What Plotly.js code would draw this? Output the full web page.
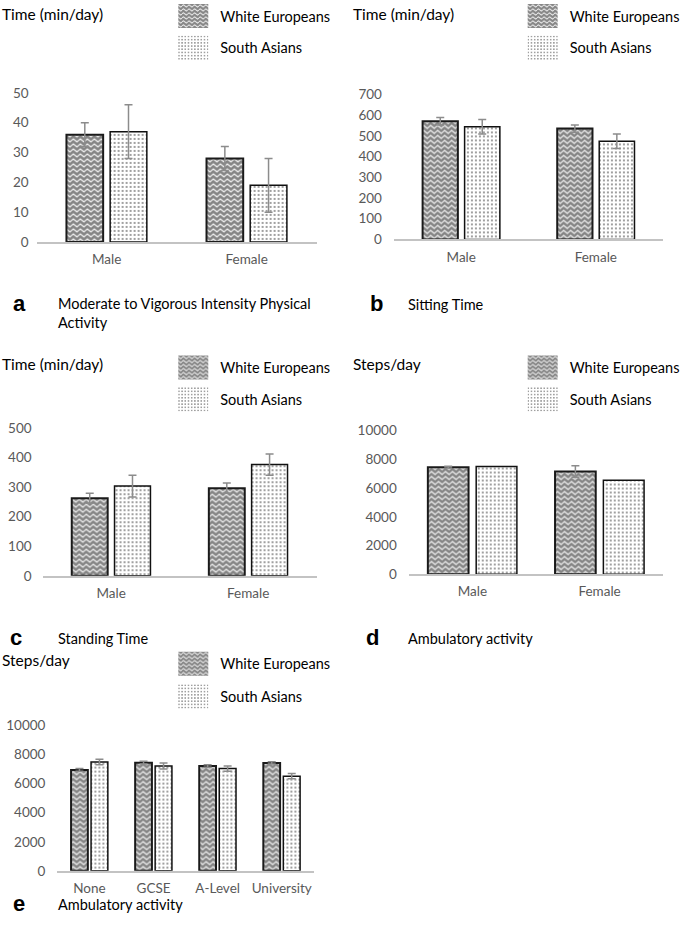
<!DOCTYPE html>
<html>
<head>
<meta charset="utf-8">
<script src="https://cdn.plot.ly/plotly-3.0.1.min.js"></script>
<style>
  html, body { margin: 0; padding: 0; background: #fff; }
  #chart { width: 685px; height: 925px; }
</style>
</head>
<body>
<div id="chart"></div>
<script>
// ---------- data ----------
const sexCategories = ['Male', 'Female'];
const eduCategories = ['None', 'GCSE', 'A-Level', 'University'];
const seriesNames = ['White Europeans', 'South Asians'];

// a: Moderate to Vigorous Intensity Physical Activity (min/day)
const mvpaWE = [36, 28];
const mvpaWEerr = [4, 4];
const mvpaSA = [37, 19];
const mvpaSAerr = [9, 9];

// b: Sitting time (min/day)
const sitWE = [571, 535];
const sitWEerr = [18, 17];
const sitSA = [544, 474];
const sitSAerr = [35, 35];

// c: Standing time (min/day)
const standWE = [263, 297];
const standWEerr = [17, 17];
const standSA = [304, 377];
const standSAerr = [37, 36];

// d: Ambulatory activity by sex (steps/day)
const stepsWE = [7450, 7150];
const stepsWEerr = [60, 400];
const stepsSA = [7500, 6550];
const stepsSAerr = [0, 0];

// e: Ambulatory activity by education (steps/day)
const eduWE = [6950, 7450, 7220, 7430];
const eduWEerr = [100, 100, 80, 80];
const eduSA = [7490, 7220, 7040, 6520];
const eduSAerr = [190, 200, 180, 180];

// ---------- styling helpers ----------
const W = 685, H = 925;
const px = v => v / W;
const py = v => 1 - v / H;
const FONT = 'Lato, "Open Sans", sans-serif';
const TXT = 14.5;
const errStyle = { color: '#8c8c8c', thickness: 1.5, width: 4 };

const weMarker = {
  color: '#8a8a8a',
  line: { color: '#1a1a1a', width: 2 },
  pattern: { shape: '-', bgcolor: '#8a8a8a', fgcolor: '#f2f2f2', size: 5, solidity: 0.3, fillmode: 'replace' }
};
const saMarker = {
  color: '#ffffff',
  line: { color: '#111111', width: 1.5 },
  pattern: { shape: '.', bgcolor: '#ffffff', fgcolor: '#262626', size: 4, solidity: 0.13, fillmode: 'replace' }
};

function pair(cats, we, weErr, sa, saErr, xa, ya, w, legA, legB) {
  const off = w.off, wid = w.wid;
  return [
    {
      type: 'bar', name: seriesNames[0], x: cats, y: we, xaxis: xa, yaxis: ya,
      width: wid, offset: -off - wid,
      marker: weMarker,
      error_y: Object.assign({ type: 'data', array: weErr, visible: weErr.some(v => v > 0) }, errStyle),
      legend: legA, showlegend: true, legendgroup: legA
    },
    {
      type: 'bar', name: seriesNames[1], x: cats, y: sa, xaxis: xa, yaxis: ya,
      width: wid, offset: off,
      marker: saMarker,
      error_y: Object.assign({ type: 'data', array: saErr, visible: saErr.some(v => v > 0) }, errStyle),
      legend: legB, showlegend: true, legendgroup: legB
    }
  ];
}

const std = { off: 0.025, wid: 0.262 };
const wide = { off: 0.03, wid: 0.32 };

const data = [].concat(
  pair(sexCategories, mvpaWE, mvpaWEerr, mvpaSA, mvpaSAerr, 'x', 'y', std, 'legend', 'legend2'),
  pair(sexCategories, sitWE, sitWEerr, sitSA, sitSAerr, 'x2', 'y2', std, 'legend3', 'legend4'),
  pair(sexCategories, standWE, standWEerr, standSA, standSAerr, 'x3', 'y3', std, 'legend5', 'legend6'),
  pair(sexCategories, stepsWE, stepsWEerr, stepsSA, stepsSAerr, 'x4', 'y4', wide, 'legend7', 'legend8'),
  pair(eduCategories, eduWE, eduWEerr, eduSA, eduSAerr, 'x5', 'y5', std, 'legend9', 'legend10')
);

function xAxis(x0, x1, yref) {
  return {
    domain: [px(x0), px(x1)], anchor: yref, type: 'category',
    showline: true, linecolor: '#c3c3c3', linewidth: 2,
    ticks: '', showgrid: false, zeroline: false, fixedrange: true,
    tickfont: { family: FONT, size: 13.5, color: '#595959' },
    ticklabelstandoff: 4
  };
}
function yAxis(yTop, yBottom, range, dtick, xref, standoff) {
  return {
    domain: [py(yBottom), py(yTop)], anchor: xref, range: range, dtick: dtick,
    tickformat: 'd',
    showline: false, showgrid: false, zeroline: false, ticks: '', fixedrange: true,
    tickfont: { family: FONT, size: 13.5, color: '#595959' },
    ticklabelstandoff: standoff
  };
}

function legendAt(x, yc) {
  return {
    x: px(x), y: py(yc), xanchor: 'left', yanchor: 'middle',
    bgcolor: 'rgba(0,0,0,0)', borderwidth: 0, itemwidth: 44,
    font: { family: FONT, size: TXT, color: '#000' },
    itemclick: false, itemdoubleclick: false
  };
}

function ann(text, x, y, opts) {
  return Object.assign({
    text: text, xref: 'paper', yref: 'paper', x: px(x), y: py(y),
    xanchor: 'left', yanchor: 'middle', showarrow: false, align: 'left',
    font: { family: FONT, size: TXT, color: '#000' }
  }, opts || {});
}
const unitFont = { family: FONT, size: 15.5, color: '#000' };
const letterFont = { family: '"Liberation Sans", Arial, sans-serif', size: 22, color: '#000', weight: 'bold' };

const layout = {
  width: W, height: H,
  margin: { l: 0, r: 0, t: 0, b: 0 },
  paper_bgcolor: '#ffffff', plot_bgcolor: 'rgba(0,0,0,0)',
  barmode: 'group',
  showlegend: true,
  xaxis: xAxis(37, 320, 'y'),
  yaxis: yAxis(87.5, 237.5, [0, 50], 10, 'x', 7),
  xaxis2: xAxis(398, 670, 'y2'),
  yaxis2: yAxis(89, 235, [0, 700], 100, 'x2', 11),
  xaxis3: xAxis(43, 320, 'y3'),
  yaxis3: yAxis(425, 573.5, [0, 500], 100, 'x3', 10),
  xaxis4: xAxis(413, 670, 'y4'),
  yaxis4: yAxis(427.3, 572, [0, 10000], 2000, 'x4', 11),
  xaxis5: xAxis(58, 317, 'y5'),
  yaxis5: yAxis(724.3, 870.5, [0, 10000], 2000, 'x5', 11),
  legend: legendAt(168, 10),
  legend2: legendAt(168, 42),
  legend3: legendAt(521, 10),
  legend4: legendAt(521, 42),
  legend5: legendAt(168, 364),
  legend6: legendAt(168, 396),
  legend7: legendAt(521, 364),
  legend8: legendAt(521, 396),
  legend9: legendAt(168, 662),
  legend10: legendAt(168, 695),
  annotations: [
    ann('Time (min/day)', 0, 8, { font: unitFont }),
    ann('Time (min/day)', 355, 8, { font: unitFont }),
    ann('Time (min/day)', 0, 360, { font: unitFont }),
    ann('Steps/day', 355, 360, { font: unitFont }),
    ann('Steps/day', 0, 658, { font: unitFont }),
    ann('a', 11, 299, { font: letterFont }),
    ann('Moderate to Vigorous Intensity Physical<br>Activity', 57, 289, { yanchor: 'top' }),
    ann('b', 372, 299, { font: letterFont }),
    ann('Sitting Time', 410, 300),
    ann('c', 8, 636, { font: letterFont }),
    ann('Standing Time', 57, 637),
    ann('d', 368, 636, { font: letterFont }),
    ann('Ambulatory activity', 410, 637),
    ann('e', 11, 903, { font: letterFont }),
    ann('Ambulatory activity', 57, 904)
  ]
};

Plotly.newPlot('chart', data, layout, { staticPlot: true, displayModeBar: false }).then(function (gd) {
  const NS = 'http://www.w3.org/2000/svg';
  // zig-zag fill for the White Europeans pattern (Plotly has no zig-zag shape)
  gd.querySelectorAll('pattern').forEach(function (p) {
    if (p.querySelector('circle')) return;
    while (p.firstChild) p.removeChild(p.firstChild);
    p.setAttribute('width', '7');
    p.setAttribute('height', '5');
    const r = document.createElementNS(NS, 'rect');
    r.setAttribute('width', '7'); r.setAttribute('height', '5'); r.setAttribute('fill', '#858585');
    p.appendChild(r);
    const z = document.createElementNS(NS, 'path');
    z.setAttribute('d', 'M0,2.5L1.75,1L5.25,4L7,2.5');
    z.setAttribute('fill', 'none'); z.setAttribute('stroke', '#f4f4f4'); z.setAttribute('stroke-width', '1.2');
    p.appendChild(z);
  });
  // larger legend swatches, without outline
  gd.querySelectorAll('.legendpoints path').forEach(function (el) {
    el.setAttribute('d', 'M15,12H-15V-12H15Z');
    el.style.strokeWidth = '0px';
  });
});
</script>
</body>
</html>
